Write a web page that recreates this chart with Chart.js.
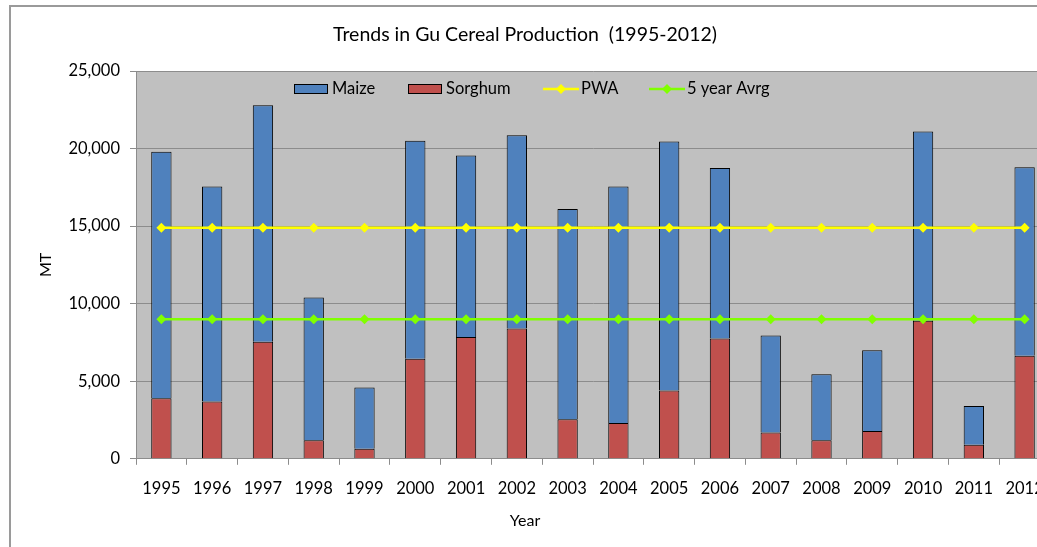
<!DOCTYPE html>
<html>
<head>
<meta charset="utf-8">
<script src="https://cdn.jsdelivr.net/npm/chart.js@4.4.1/dist/chart.umd.min.js"></script>
<style>
  html, body { margin: 0; padding: 0; background: #fff; overflow: hidden; width: 1037px; height: 547px; }
  #frame { position: absolute; left: 9px; top: 5px; width: 1200px; height: 700px; border: 2px solid #9a9a9a; box-sizing: border-box; }
  #wrap { position: absolute; left: 0; top: 0; width: 1065px; height: 547px; }
</style>
</head>
<body>
<div id="frame"></div>
<div id="wrap"><canvas id="c" width="1065" height="547"></canvas></div>
<script>
const years = ['1995','1996','1997','1998','1999','2000','2001','2002','2003','2004','2005','2006','2007','2008','2009','2010','2011','2012'];
const maize   = [15900, 13850, 15250, 9200, 3950, 14050, 11700, 12450, 13550, 15250, 16050, 11000, 6250, 4250, 5200, 12200, 2500, 12150];
const sorghum = [3900, 3700, 7550, 1200, 650, 6450, 7850, 8400, 2550, 2300, 4400, 7750, 1700, 1200, 1800, 8900, 900, 6650];
const pwa     = [14900, 14900, 14900, 14900, 14900, 14900, 14900, 14900, 14900, 14900, 14900, 14900, 14900, 14900, 14900, 14900, 14900, 14900];
const avg5    = [9000, 9000, 9000, 9000, 9000, 9000, 9000, 9000, 9000, 9000, 9000, 9000, 9000, 9000, 9000, 9000, 9000, 9000];
const yTicks  = [0, 5000, 10000, 15000, 20000, 25000];

const FONT = 'Lato, "Liberation Sans", sans-serif';
const BLUE = '#4F81BD', RED = '#C0504D', YEL = '#FFFF00', GRN = '#80FF00';

const insideLegend = {
  id: 'insideLegend',
  afterDraw(chart) {
    const ctx = chart.ctx;
    const y = 89;
    ctx.save();
    ctx.font = '16.5px ' + FONT;
    ctx.textBaseline = 'middle';
    ctx.fillStyle = '#000';
    const items = [
      { label: 'Maize', type: 'box', color: BLUE, x: 294 },
      { label: 'Sorghum', type: 'box', color: RED, x: 408 },
      { label: 'PWA', type: 'line', color: YEL, x: 543 },
      { label: '5 year Avrg', type: 'line', color: GRN, x: 649 }
    ];
    items.forEach(it => {
      if (it.type === 'box') {
        ctx.fillStyle = it.color;
        ctx.fillRect(it.x, y - 5, 34, 10);
        ctx.strokeStyle = '#000';
        ctx.lineWidth = 1;
        ctx.strokeRect(it.x + 0.5, y - 4.5, 33, 9);
        ctx.fillStyle = '#000';
        ctx.fillText(it.label, it.x + 38, y);
      } else {
        ctx.strokeStyle = it.color;
        ctx.lineWidth = 2.5;
        ctx.beginPath();
        ctx.moveTo(it.x, y);
        ctx.lineTo(it.x + 36, y);
        ctx.stroke();
        ctx.fillStyle = it.color;
        ctx.beginPath();
        const cx = it.x + 18;
        ctx.moveTo(cx, y - 5); ctx.lineTo(cx + 5, y); ctx.lineTo(cx, y + 5); ctx.lineTo(cx - 5, y);
        ctx.closePath(); ctx.fill();
        ctx.fillStyle = '#000';
        ctx.fillText(it.label, it.x + 38, y);
      }
    });
    ctx.restore();
  }
};

const plotBg = {
  id: 'plotBg',
  beforeDraw(chart) {
    const a = chart.chartArea, ctx = chart.ctx;
    ctx.save();
    ctx.fillStyle = '#C0C0C0';
    ctx.fillRect(a.left, a.top, a.right - a.left, a.bottom - a.top);
    ctx.restore();
  }
};

new Chart(document.getElementById('c'), {
  type: 'bar',
  data: {
    labels: years,
    datasets: [
      { type: 'line', label: 'PWA', data: pwa, stack: 'pwa', order: 0,
        borderColor: YEL, backgroundColor: YEL, borderWidth: 2.5,
        pointStyle: 'rectRot', pointRadius: 5, pointBorderWidth: 0, pointBackgroundColor: YEL, tension: 0 },
      { type: 'line', label: '5 year Avrg', data: avg5, stack: 'avg', order: 0,
        borderColor: GRN, backgroundColor: GRN, borderWidth: 2.5,
        pointStyle: 'rectRot', pointRadius: 5, pointBorderWidth: 0, pointBackgroundColor: GRN, tension: 0 },
      { label: 'Sorghum', data: sorghum, backgroundColor: RED, borderColor: '#000', borderWidth: 1,
        barPercentage: 0.4, categoryPercentage: 1, order: 1 },
      { label: 'Maize', data: maize, backgroundColor: BLUE, borderColor: '#000', borderWidth: 1,
        barPercentage: 0.4, categoryPercentage: 1, order: 1 }
    ]
  },
  options: {
    responsive: false,
    animation: false,
    layout: { padding: { left: 0, right: 15, top: 0, bottom: 0 } },
    plugins: {
      legend: { display: false },
      tooltip: { enabled: false },
      title: {
        display: true,
        text: 'Trends in Gu Cereal Production  (1995-2012)',
        color: '#000',
        font: { family: FONT, size: 19.5, weight: 'normal', lineHeight: 1.2 },
        padding: { top: 23, bottom: 24.6 }
      },
      subtitle: {
        display: true,
        position: 'bottom',
        text: 'Year',
        color: '#000',
        font: { family: FONT, size: 16, weight: 'normal', lineHeight: 1.2 },
        padding: { top: 4, bottom: 17 }
      }
    },
    scales: {
      x: {
        stacked: true,
        offset: true,
        grid: { display: true, drawOnChartArea: false, drawTicks: true, tickLength: 6, color: '#8c8c8c', offset: true },
        border: { display: true, color: '#8c8c8c', width: 1 },
        ticks: { color: '#000', font: { family: FONT, size: 16.5 }, padding: 14, maxRotation: 0, autoSkip: false },
        afterFit(scale) { scale.height = 48; }
      },
      y: {
        stacked: true,
        min: 0, max: 25000,
        afterBuildTicks(scale) { scale.ticks = yTicks.map(v => ({ value: v })); },
        grid: { color: '#8c8c8c', lineWidth: 1, tickLength: 6, drawTicks: true },
        border: { display: true, color: '#8c8c8c', width: 1 },
        ticks: {
          color: '#000', font: { family: FONT, size: 16.5 }, padding: 10,
          callback: v => v.toLocaleString('en-US')
        },
        title: {
          display: true, text: 'MT', color: '#000',
          font: { family: FONT, size: 16, weight: 'normal', lineHeight: 1.2 },
          padding: { top: 36, bottom: 0 }
        },
        afterFit(scale) { scale.width = 136; }
      }
    }
  },
  plugins: [plotBg, insideLegend]
});
</script>
</body>
</html>
